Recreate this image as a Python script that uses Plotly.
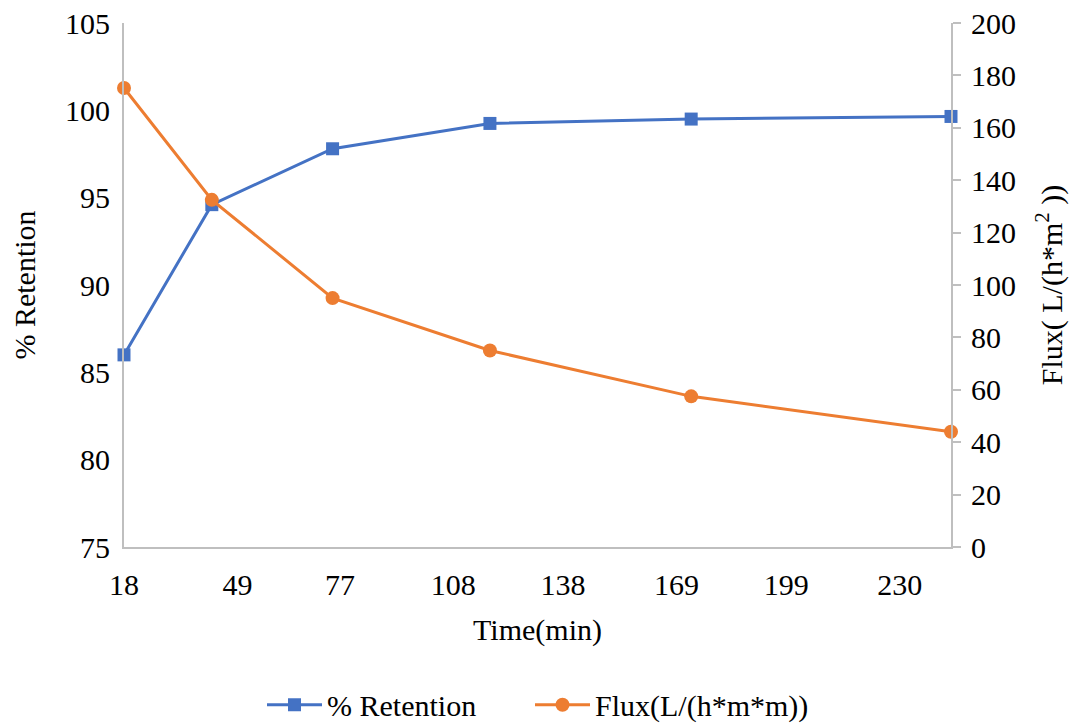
import plotly.graph_objects as go

time_min = [18, 42, 75, 118, 173, 244]
retention = [86.0, 94.6, 97.8, 99.25, 99.5, 99.65]
flux = [175.2, 132.5, 95.0, 75.0, 57.5, 44.0]
x_ticks = [18, 49, 77, 108, 138, 169, 199, 230]

BLUE = "#4472C4"
ORANGE = "#ED7D31"
AXIS = "#BFBFBF"
FONT = "Liberation Serif, Times New Roman, serif"
FS = 30

fig = go.Figure()
fig.add_trace(go.Scatter(
    x=time_min, y=retention, name="% Retention", mode="lines+markers",
    line=dict(color=BLUE, width=3), marker=dict(symbol="square", size=13, color=BLUE),
    yaxis="y", cliponaxis=False, legend="legend"))
fig.add_trace(go.Scatter(
    x=time_min, y=flux, name="Flux(L/(h*m*m))", mode="lines+markers",
    line=dict(color=ORANGE, width=3), marker=dict(symbol="circle", size=14, color=ORANGE),
    yaxis="y2", cliponaxis=False, legend="legend2"))

leg_common = dict(orientation="h", xanchor="left", xref="container",
                  y=0.028, yanchor="middle", yref="container",
                  font=dict(family=FONT, size=FS), itemwidth=55, tracegroupgap=0)

fig.update_layout(
    width=1078, height=725,
    margin=dict(l=124, r=127, t=23, b=178, autoexpand=False),
    paper_bgcolor="white", plot_bgcolor="white",
    font=dict(family=FONT, size=FS, color="black"),
    showlegend=True,
    legend=dict(x=262 / 1078, **leg_common),
    legend2=dict(x=530 / 1078, **leg_common),
    xaxis=dict(range=[18, 244], tickvals=x_ticks, ticktext=[str(v) for v in x_ticks],
               showgrid=False, zeroline=False, showline=True, linecolor=AXIS, linewidth=2,
               ticks="", ticklabelstandoff=10, automargin=False,
               title=dict(text="Time(min)", standoff=19, font=dict(size=FS))),
    yaxis=dict(range=[75, 105], dtick=5, showgrid=False, zeroline=False, automargin=False,
               showline=True, linecolor=AXIS, linewidth=2, ticks="", ticklabelstandoff=6,
               title=dict(text="% Retention", standoff=21, font=dict(size=FS))),
    yaxis2=dict(range=[0, 200], dtick=20, overlaying="y", side="right", automargin=False,
                showgrid=False, zeroline=False, showline=True, linecolor=AXIS, linewidth=2,
                ticks="outside", ticklen=8, tickcolor=AXIS, tickwidth=2, ticklabelstandoff=4,
                title=dict(text="Flux( L/(h*m<sup>2</sup> ))", standoff=26, font=dict(size=FS))),
)

fig.write_html("out.html")
